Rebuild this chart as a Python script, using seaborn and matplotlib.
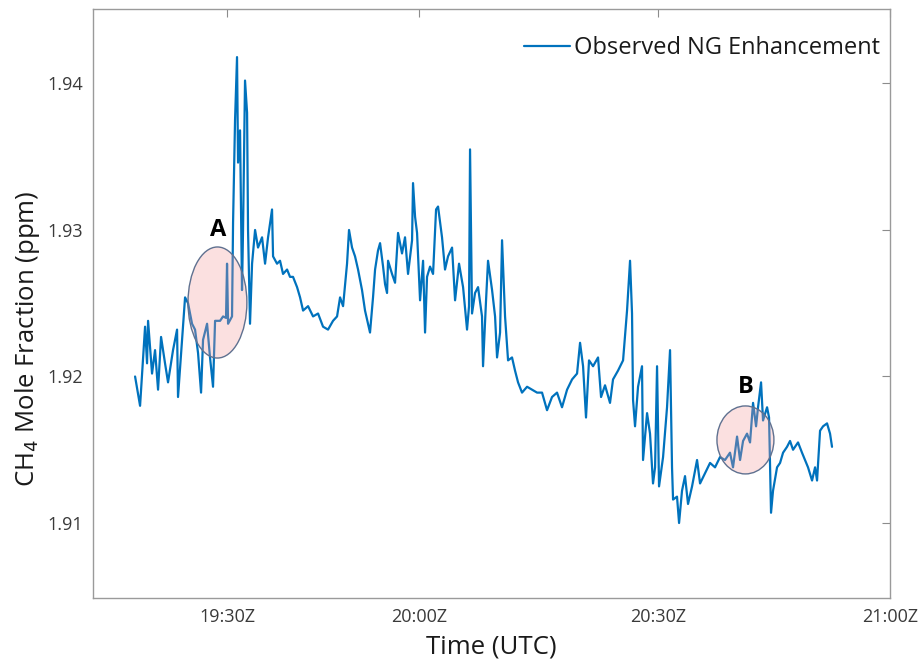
import numpy as np
import pandas as pd
import matplotlib
matplotlib.use("Agg")
import matplotlib.pyplot as plt
from matplotlib.patches import Ellipse
import seaborn as sns

# Time in minutes after 19:00 UTC, CH4 mole fraction in ppm
minutes = [
    15.63, 16.41, 17.19, 17.50, 17.66, 18.28, 18.75, 19.22, 19.69, 20.31,
    20.78, 21.56, 22.19, 22.34, 22.97, 23.44, 23.91, 24.53, 25.00, 25.47,
    25.94, 26.25, 26.88, 27.34, 27.81, 28.13, 28.91, 29.38, 29.84, 30.00,
    30.16, 30.78, 30.94, 31.25, 31.56, 31.72, 32.03, 32.34, 32.50, 32.81,
    33.13, 33.28, 33.59, 33.91, 34.38, 34.84, 35.47, 35.94, 36.41, 37.03,
    37.19, 37.81, 38.28, 38.75, 39.38, 39.84, 40.31, 40.94, 41.41, 41.88,
    42.66, 43.44, 44.22, 45.00, 45.78, 46.56, 47.19, 47.66, 48.13, 48.75,
    49.06, 49.53, 50.00, 50.47, 51.09, 51.56, 52.03, 52.34, 52.81, 53.13,
    53.59, 53.91, 54.38, 54.69, 55.00, 55.16, 55.78, 56.25, 56.72, 57.34,
    57.81, 58.28, 58.91, 59.06, 59.38, 59.69, 60.16, 60.63, 60.94, 61.25,
    61.72, 62.19, 62.66, 62.97, 63.59, 64.06, 64.53, 65.16, 65.63, 66.25,
    66.88, 67.50, 67.81, 67.97, 68.28, 68.75, 69.22, 69.84, 70.00, 70.47,
    70.78, 71.41, 71.88, 72.19, 72.66, 72.97, 73.44, 73.91, 74.53, 75.00,
    75.47, 76.09, 76.88, 77.66, 78.44, 79.22, 80.00, 80.78, 81.56, 82.34,
    83.13, 83.91, 84.69, 85.16, 85.63, 86.09, 86.56, 87.19, 87.97, 88.44,
    89.06, 89.84, 90.31, 91.09, 91.88, 92.50, 92.97, 93.28, 93.44, 93.75,
    94.22, 94.84, 95.00, 95.63, 96.09, 96.56, 96.88, 97.19, 97.50, 98.13,
    98.75, 99.22, 99.53, 99.69, 100.31, 100.63, 101.09, 101.56, 102.03, 102.66,
    103.44, 103.91, 104.69, 105.47, 106.25, 107.03, 107.81, 108.59, 109.06, 109.69,
    110.16, 110.63, 111.25, 111.72, 112.19, 112.66, 112.97, 113.44, 113.75, 114.38,
    114.69, 115.00, 115.31, 115.94, 116.41, 116.88, 117.50, 117.97, 118.44, 119.22,
    119.84, 120.31, 120.78, 121.41, 121.88, 122.19, 122.66, 123.13, 123.75, 124.22,
    124.53,
]
ch4_ppm = [
    1.9200, 1.9180, 1.9234, 1.9209, 1.9238, 1.9202, 1.9218, 1.9191, 1.9227, 1.9209,
    1.9196, 1.9218, 1.9232, 1.9186, 1.9225, 1.9254, 1.9250, 1.9236, 1.9232, 1.9216,
    1.9189, 1.9225, 1.9236, 1.9213, 1.9193, 1.9238, 1.9238, 1.9241, 1.9240, 1.9277,
    1.9236, 1.9241, 1.9305, 1.9375, 1.9418, 1.9346, 1.9368, 1.9259, 1.9300, 1.9402,
    1.9380, 1.9300, 1.9236, 1.9277, 1.9300, 1.9288, 1.9295, 1.9277, 1.9295, 1.9314,
    1.9282, 1.9277, 1.9279, 1.9270, 1.9273, 1.9268, 1.9268, 1.9261, 1.9254, 1.9245,
    1.9248, 1.9241, 1.9243, 1.9234, 1.9232, 1.9238, 1.9241, 1.9254, 1.9248, 1.9277,
    1.9300, 1.9288, 1.9282, 1.9273, 1.9259, 1.9245, 1.9236, 1.9230, 1.9254, 1.9273,
    1.9286, 1.9291, 1.9275, 1.9263, 1.9257, 1.9279, 1.9270, 1.9264, 1.9298, 1.9284,
    1.9295, 1.9270, 1.9293, 1.9332, 1.9309, 1.9298, 1.9252, 1.9279, 1.9230, 1.9268,
    1.9275, 1.9270, 1.9314, 1.9316, 1.9295, 1.9273, 1.9282, 1.9288, 1.9252, 1.9277,
    1.9261, 1.9232, 1.9248, 1.9355, 1.9243, 1.9257, 1.9261, 1.9241, 1.9207, 1.9252,
    1.9279, 1.9259, 1.9241, 1.9213, 1.9230, 1.9293, 1.9241, 1.9211, 1.9213, 1.9204,
    1.9196, 1.9189, 1.9193, 1.9191, 1.9189, 1.9189, 1.9177, 1.9186, 1.9189, 1.9179,
    1.9191, 1.9198, 1.9202, 1.9223, 1.9207, 1.9172, 1.9211, 1.9207, 1.9213, 1.9186,
    1.9194, 1.9182, 1.9198, 1.9204, 1.9211, 1.9245, 1.9279, 1.9243, 1.9184, 1.9166,
    1.9193, 1.9207, 1.9143, 1.9175, 1.9161, 1.9127, 1.9138, 1.9207, 1.9125, 1.9145,
    1.9179, 1.9218, 1.9138, 1.9116, 1.9118, 1.9100, 1.9122, 1.9132, 1.9113, 1.9125,
    1.9143, 1.9127, 1.9134, 1.9141, 1.9138, 1.9145, 1.9143, 1.9148, 1.9138, 1.9159,
    1.9143, 1.9156, 1.9161, 1.9155, 1.9182, 1.9166, 1.9179, 1.9196, 1.9170, 1.9179,
    1.9172, 1.9107, 1.9122, 1.9138, 1.9141, 1.9148, 1.9152, 1.9156, 1.9150, 1.9155,
    1.9148, 1.9143, 1.9138, 1.9129, 1.9138, 1.9129, 1.9163, 1.9166, 1.9168, 1.9161,
    1.9152,
]

tick_positions = [30.0, 60.0, 97.34, 133.59]
tick_labels = ["19:30Z", "20:00Z", "20:30Z", "21:00Z"]
y_ticks = [1.91, 1.92, 1.93, 1.94]
y_tick_labels = ["1.91", "1.92", "1.93", "1.94"]

# Highlighted episodes: (label, centre minute, centre ppm, width min, height ppm)
highlight_labels = ["A", "B"]
highlight_x = [28.5, 111.0]
highlight_y = [1.92505, 1.91567]
highlight_w = [9.2, 8.9]
highlight_h = [0.00758, 0.00464]
label_x = [28.59, 111.09]
label_y = [1.9300, 1.91928]

df = pd.DataFrame({"minutes": minutes, "ch4": ch4_ppm})

sns.set_theme(style="white")
plt.rcParams["font.family"] = ["Open Sans", "DejaVu Sans"]

fig = plt.figure(figsize=(9.22, 6.63), dpi=100)
ax = fig.add_axes([0.1009, 0.098, 0.8644, 0.8877])

line_color = "#0072BD"
sns.lineplot(data=df, x="minutes", y="ch4", ax=ax, color=line_color,
             linewidth=1.6, estimator=None, sort=False,
             label="Observed NG Enhancement")

for lab, cx, cy, w, h, lx, ly in zip(highlight_labels, highlight_x, highlight_y,
                                     highlight_w, highlight_h, label_x, label_y):
    ax.add_patch(Ellipse((cx, cy), w, h, facecolor=(0.96, 0.6, 0.6, 0.3),
                         edgecolor="#5f7190", linewidth=1.0, zorder=5))
    ax.text(lx, ly, lab, fontsize=17, fontweight="bold", color="black",
            ha="center", va="center", zorder=6)

ax.set_xlim(9.06, 133.59)
ax.set_ylim(1.90488, 1.94505)
ax.set_xticks(tick_positions)
ax.set_xticklabels(tick_labels)
ax.set_yticks(y_ticks)
ax.set_yticklabels(y_tick_labels)

ax.set_xlabel("Time (UTC)", fontsize=18.5, color="#1a1a1a", labelpad=6)
ax.set_ylabel("CH$_4$ Mole Fraction (ppm)", fontsize=18.5, color="#1a1a1a")
ax.yaxis.set_label_coords(-0.064, 0.44)

ax.tick_params(axis="both", which="major", direction="in", length=6, width=0.8,
               color="#8c8c8c", labelsize=13, labelcolor="#3a3a3a",
               top=True, right=True, pad=7)
for sp in ax.spines.values():
    sp.set_color("#9a9a9a")
    sp.set_linewidth(1.0)

leg = ax.legend(loc="center right", bbox_to_anchor=(0.9875, 0.9346), frameon=False,
                fontsize=17, handlelength=1.95, handletextpad=0.17,
                borderpad=0, borderaxespad=0)
for t in leg.get_texts():
    t.set_color("#1a1a1a")

fig.savefig("out.png", dpi=100)
